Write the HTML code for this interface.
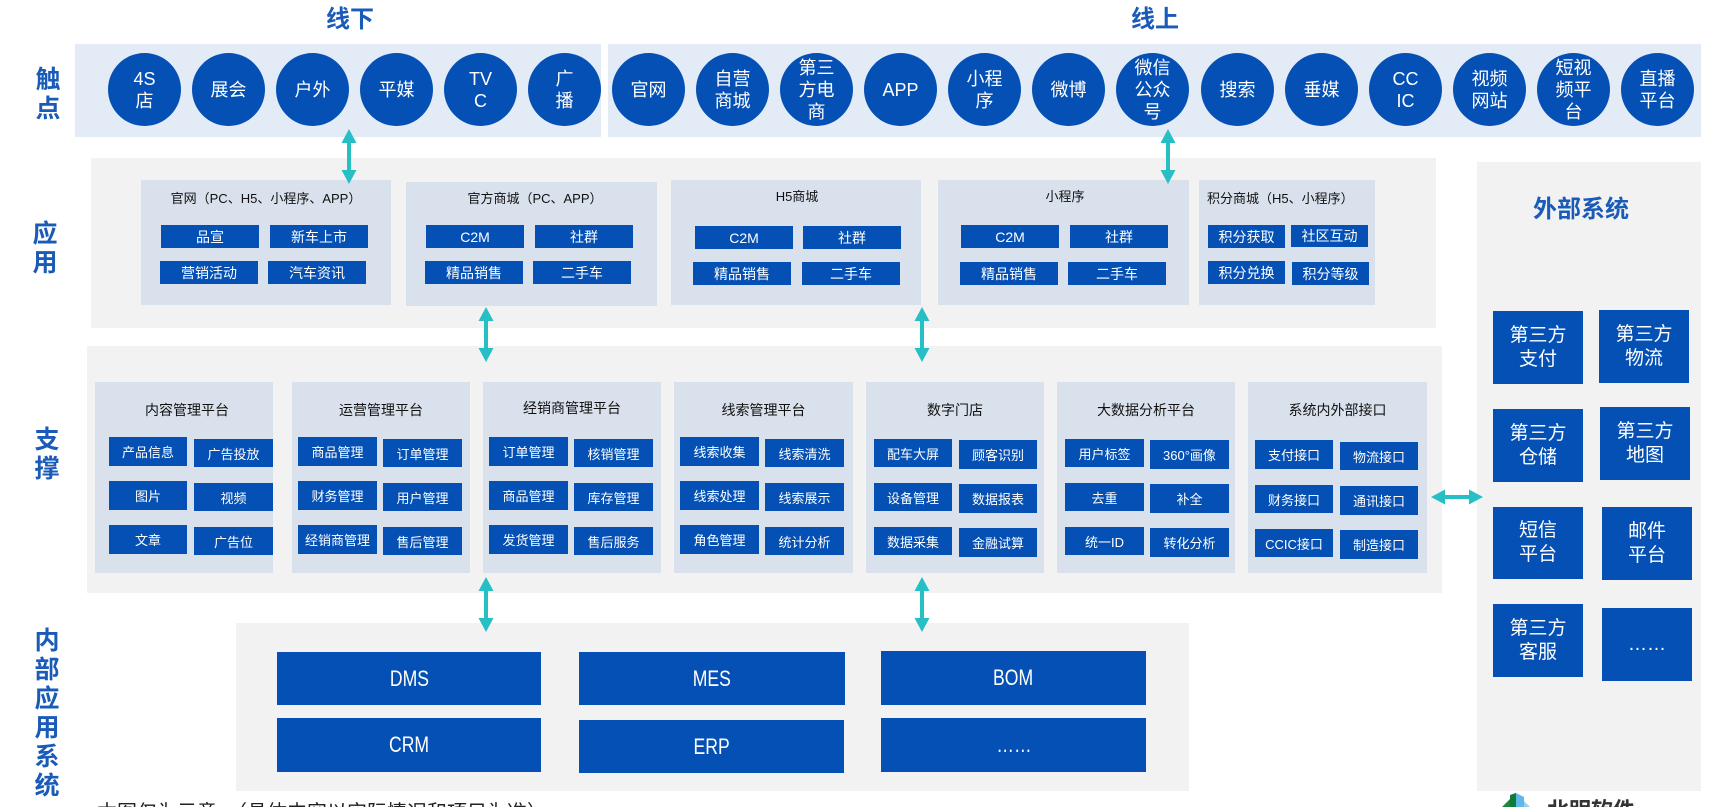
<!DOCTYPE html>
<html><head><meta charset="utf-8">
<style>
*{margin:0;padding:0;box-sizing:border-box}
html{width:1712px;height:807px;overflow:hidden}
body{width:1712px;height:807px;overflow:hidden;background:#fff;font-family:"Liberation Sans","Noto Sans CJK SC",sans-serif}
#root{position:relative;width:1712px;height:807px;overflow:hidden;background:#fff}
.a{position:absolute}
.lbl{position:absolute;color:#1a5bb8;font-weight:bold;font-size:25px;line-height:29px;width:30px;text-align:center}
.ttl{position:absolute;color:#1a5bb8;font-weight:bold;font-size:24px;line-height:28px}
.band{position:absolute}
.circ{position:absolute;top:53px;width:73px;height:73px;border-radius:50%;background:#0450b4;color:#fff;font-size:18px;line-height:22px;display:flex;align-items:center;justify-content:center;text-align:center}
.pan{position:absolute;background:#d9e1ec}
.pt{position:absolute;font-size:14px;color:#111;white-space:nowrap;text-align:center;line-height:18px}
.b{position:absolute;background:#0450b4;color:#fff;font-size:14px;display:flex;align-items:center;justify-content:center;white-space:nowrap}
.sb{position:absolute;background:#0450b4;color:#fff;font-size:13px;width:79px;height:29px;display:flex;align-items:center;justify-content:center;white-space:nowrap}
.eb{position:absolute;background:#0450b4;color:#fff;font-size:19px;line-height:24px;width:90px;height:73px;display:flex;align-items:center;justify-content:center;text-align:center}
.ib{position:absolute;background:#0450b4;color:#fff;font-size:22px;height:53px;display:flex;align-items:center;justify-content:center}
.ib span{display:inline-block;transform:scaleX(0.8)}
</style></head><body><div id="root">

<!-- titles -->
<div class="ttl" style="left:326px;top:6px">线下</div>
<div class="ttl" style="left:1131px;top:6px">线上</div>

<!-- left labels -->
<div class="lbl" style="left:33px;top:66px">触<br>点</div>
<div class="lbl" style="left:30px;top:220px">应<br>用</div>
<div class="lbl" style="left:32px;top:426px">支<br>撑</div>
<div class="lbl" style="left:32px;top:627px">内<br>部<br>应<br>用<br>系<br>统</div>

<!-- touch bands -->
<div class="band" style="left:75px;top:44px;width:526px;height:93px;background:#e3ebf7"></div>
<div class="band" style="left:608px;top:44px;width:1093px;height:93px;background:#e3ebf7"></div>

<div class="circ" style="left:108px">4S<br>店</div>
<div class="circ" style="left:192px">展会</div>
<div class="circ" style="left:276px">户外</div>
<div class="circ" style="left:360px">平媒</div>
<div class="circ" style="left:444px">TV<br>C</div>
<div class="circ" style="left:528px">广<br>播</div>

<div class="circ" style="left:612px">官网</div>
<div class="circ" style="left:696px">自营<br>商城</div>
<div class="circ" style="left:780px">第三<br>方电<br>商</div>
<div class="circ" style="left:864px">APP</div>
<div class="circ" style="left:948px">小程<br>序</div>
<div class="circ" style="left:1032px">微博</div>
<div class="circ" style="left:1116px">微信<br>公众<br>号</div>
<div class="circ" style="left:1201px">搜索</div>
<div class="circ" style="left:1285px">垂媒</div>
<div class="circ" style="left:1369px">CC<br>IC</div>
<div class="circ" style="left:1453px">视频<br>网站</div>
<div class="circ" style="left:1537px">短视<br>频平<br>台</div>
<div class="circ" style="left:1621px">直播<br>平台</div>

<!-- app band -->
<div class="band" style="left:91px;top:158px;width:1345px;height:170px;background:#f2f2f2"></div>

<div class="pan" style="left:141px;top:180px;width:250px;height:125px"></div>
<div class="pt" style="left:141px;top:190px;width:250px;font-size:13px">官网（PC、H5、小程序、APP）</div>
<div class="b" style="left:161px;top:225px;width:98px;height:23px">品宣</div>
<div class="b" style="left:270px;top:225px;width:98px;height:23px">新车上市</div>
<div class="b" style="left:160px;top:261px;width:98px;height:23px">营销活动</div>
<div class="b" style="left:268px;top:261px;width:98px;height:23px">汽车资讯</div>

<div class="pan" style="left:406px;top:182px;width:251px;height:124px"></div>
<div class="pt" style="left:406px;top:190px;width:258px;font-size:13px">官方商城（PC、APP）</div>
<div class="b" style="left:426px;top:225px;width:98px;height:23px">C2M</div>
<div class="b" style="left:535px;top:225px;width:98px;height:23px">社群</div>
<div class="b" style="left:425px;top:261px;width:98px;height:23px">精品销售</div>
<div class="b" style="left:533px;top:261px;width:98px;height:23px">二手车</div>

<div class="pan" style="left:671px;top:180px;width:250px;height:125px"></div>
<div class="pt" style="left:671px;top:188px;width:252px;font-size:13px">H5商城</div>
<div class="b" style="left:695px;top:226px;width:98px;height:23px">C2M</div>
<div class="b" style="left:803px;top:226px;width:98px;height:23px">社群</div>
<div class="b" style="left:693px;top:262px;width:98px;height:23px">精品销售</div>
<div class="b" style="left:802px;top:262px;width:98px;height:23px">二手车</div>

<div class="pan" style="left:938px;top:180px;width:251px;height:125px"></div>
<div class="pt" style="left:938px;top:188px;width:254px;font-size:13px">小程序</div>
<div class="b" style="left:961px;top:225px;width:98px;height:23px">C2M</div>
<div class="b" style="left:1070px;top:225px;width:98px;height:23px">社群</div>
<div class="b" style="left:960px;top:262px;width:98px;height:23px">精品销售</div>
<div class="b" style="left:1068px;top:262px;width:98px;height:23px">二手车</div>

<div class="pan" style="left:1199px;top:180px;width:176px;height:125px"></div>
<div class="pt" style="left:1207px;top:190px;text-align:left;font-size:13px">积分商城（H5、小程序）</div>
<div class="b" style="left:1208px;top:225px;width:77px;height:23px">积分获取</div>
<div class="b" style="left:1291px;top:225px;width:77px;height:22px">社区互动</div>
<div class="b" style="left:1208px;top:261px;width:77px;height:23px">积分兑换</div>
<div class="b" style="left:1292px;top:262px;width:77px;height:23px">积分等级</div>

<!-- external -->
<div class="band" style="left:1477px;top:162px;width:224px;height:629px;background:#f2f2f2"></div>
<div class="ttl" style="left:1533px;top:196px;font-size:24px">外部系统</div>
<div class="eb" style="left:1493px;top:311px">第三方<br>支付</div>
<div class="eb" style="left:1599px;top:310px">第三方<br>物流</div>
<div class="eb" style="left:1493px;top:409px">第三方<br>仓储</div>
<div class="eb" style="left:1600px;top:407px">第三方<br>地图</div>
<div class="eb" style="left:1493px;top:507px;height:72px">短信<br>平台</div>
<div class="eb" style="left:1602px;top:507px">邮件<br>平台</div>
<div class="eb" style="left:1493px;top:604px">第三方<br>客服</div>
<div class="eb" style="left:1602px;top:608px">……</div>

<!-- support band -->
<div class="band" style="left:87px;top:346px;width:1355px;height:247px;background:#f2f2f2"></div>

<div class="pan" style="left:95px;top:382px;width:178px;height:191px"></div>
<div class="pt" style="left:95px;top:401px;width:184px">内容管理平台</div>
<div class="sb" style="left:109px;top:437px;width:78px">产品信息</div>
<div class="sb" style="left:194px;top:439px;height:28px">广告投放</div>
<div class="sb" style="left:109px;top:481px;width:78px">图片</div>
<div class="sb" style="left:194px;top:483px;height:28px">视频</div>
<div class="sb" style="left:109px;top:525px;width:78px">文章</div>
<div class="sb" style="left:194px;top:527px;height:28px">广告位</div>

<div class="pan" style="left:292px;top:382px;width:178px;height:191px"></div>
<div class="pt" style="left:292px;top:401px;width:178px">运营管理平台</div>
<div class="sb" style="left:298px;top:437px">商品管理</div>
<div class="sb" style="left:383px;top:439px;height:28px">订单管理</div>
<div class="sb" style="left:298px;top:481px">财务管理</div>
<div class="sb" style="left:383px;top:483px;height:28px">用户管理</div>
<div class="sb" style="left:298px;top:525px">经销商管理</div>
<div class="sb" style="left:383px;top:527px;height:28px">售后管理</div>

<div class="pan" style="left:483px;top:382px;width:178px;height:191px"></div>
<div class="pt" style="left:483px;top:399px;width:178px">经销商管理平台</div>
<div class="sb" style="left:489px;top:437px">订单管理</div>
<div class="sb" style="left:574px;top:439px;height:28px">核销管理</div>
<div class="sb" style="left:489px;top:481px">商品管理</div>
<div class="sb" style="left:574px;top:483px;height:28px">库存管理</div>
<div class="sb" style="left:489px;top:525px">发货管理</div>
<div class="sb" style="left:574px;top:527px;height:28px">售后服务</div>

<div class="pan" style="left:674px;top:382px;width:179px;height:191px"></div>
<div class="pt" style="left:674px;top:401px;width:179px">线索管理平台</div>
<div class="sb" style="left:680px;top:437px">线索收集</div>
<div class="sb" style="left:765px;top:439px;height:28px">线索清洗</div>
<div class="sb" style="left:680px;top:481px">线索处理</div>
<div class="sb" style="left:765px;top:483px;height:28px">线索展示</div>
<div class="sb" style="left:680px;top:525px">角色管理</div>
<div class="sb" style="left:765px;top:527px;height:28px">统计分析</div>

<div class="pan" style="left:866px;top:382px;width:178px;height:191px"></div>
<div class="pt" style="left:866px;top:401px;width:178px">数字门店</div>
<div class="sb" style="left:874px;top:439px;width:78px;height:28px">配车大屏</div>
<div class="sb" style="left:959px;top:440px;width:78px">顾客识别</div>
<div class="sb" style="left:874px;top:483px;width:78px;height:28px">设备管理</div>
<div class="sb" style="left:959px;top:484px;width:78px">数据报表</div>
<div class="sb" style="left:874px;top:527px;width:78px;height:28px">数据采集</div>
<div class="sb" style="left:959px;top:528px;width:78px">金融试算</div>

<div class="pan" style="left:1057px;top:382px;width:178px;height:191px"></div>
<div class="pt" style="left:1057px;top:401px;width:178px">大数据分析平台</div>
<div class="sb" style="left:1065px;top:439px;height:28px">用户标签</div>
<div class="sb" style="left:1150px;top:440px">360°画像</div>
<div class="sb" style="left:1065px;top:483px;height:28px">去重</div>
<div class="sb" style="left:1150px;top:484px">补全</div>
<div class="sb" style="left:1065px;top:527px;height:28px">统一ID</div>
<div class="sb" style="left:1150px;top:528px">转化分析</div>

<div class="pan" style="left:1248px;top:382px;width:179px;height:191px"></div>
<div class="pt" style="left:1248px;top:401px;width:179px">系统内外部接口</div>
<div class="sb" style="left:1255px;top:440px;width:78px">支付接口</div>
<div class="sb" style="left:1340px;top:442px;width:78px;height:28px">物流接口</div>
<div class="sb" style="left:1255px;top:485px;width:78px;height:28px">财务接口</div>
<div class="sb" style="left:1340px;top:486px;width:78px">通讯接口</div>
<div class="sb" style="left:1255px;top:529px;width:78px;height:28px">CCIC接口</div>
<div class="sb" style="left:1340px;top:530px;width:78px">制造接口</div>

<!-- internal -->
<div class="band" style="left:236px;top:623px;width:953px;height:168px;background:#f2f2f2"></div>
<div class="ib" style="left:277px;top:652px;width:264px"><span>DMS</span></div>
<div class="ib" style="left:277px;top:718px;width:264px;height:54px"><span>CRM</span></div>
<div class="ib" style="left:579px;top:652px;width:266px"><span>MES</span></div>
<div class="ib" style="left:579px;top:720px;width:265px"><span>ERP</span></div>
<div class="ib" style="left:881px;top:651px;width:265px;height:54px"><span>BOM</span></div>
<div class="ib" style="left:881px;top:718px;width:265px;height:54px"><span>……</span></div>

<!-- bottom text + logo (clipped at bottom edge like reference) -->
<div class="a" style="left:97px;top:801px;font-size:20px;line-height:24px;color:#222;white-space:nowrap">本图仅为示意，（具体内容以实际情况和项目为准）</div>
<svg class="a" style="left:1500px;top:793px" width="32" height="14" viewBox="0 0 32 14">
<polygon points="2,14 10,6 10,14" fill="#1a8a3a"/>
<polygon points="10,14 10,2 16,0 16,14" fill="#0f7a3a"/>
<polygon points="16,14 16,0 24,4 24,14" fill="#5fb8e8"/>
<polygon points="24,14 24,8 30,14" fill="#9ad0f0"/>
</svg>
<div class="a" style="left:1547px;top:798px;font-size:22px;line-height:26px;color:#333;font-weight:bold;white-space:nowrap">北明软件</div>

<!-- arrows -->
<svg class="a" style="left:0;top:0" width="1712" height="807">
<g fill="#27bfc6">
<g transform="translate(349,129)"><polygon points="0,0 7.5,14 2,14 2,41 7.5,41 0,55 -7.5,41 -2,41 -2,14 -7.5,14"/></g>
<g transform="translate(1168,129)"><polygon points="0,0 7.5,14 2,14 2,41 7.5,41 0,55 -7.5,41 -2,41 -2,14 -7.5,14"/></g>
<g transform="translate(486,307)"><polygon points="0,0 7.5,14 2,14 2,41 7.5,41 0,55 -7.5,41 -2,41 -2,14 -7.5,14"/></g>
<g transform="translate(922,307)"><polygon points="0,0 7.5,14 2,14 2,41 7.5,41 0,55 -7.5,41 -2,41 -2,14 -7.5,14"/></g>
<g transform="translate(486,577)"><polygon points="0,0 7.5,14 2,14 2,41 7.5,41 0,55 -7.5,41 -2,41 -2,14 -7.5,14"/></g>
<g transform="translate(922,577)"><polygon points="0,0 7.5,14 2,14 2,41 7.5,41 0,55 -7.5,41 -2,41 -2,14 -7.5,14"/></g>
<g transform="translate(1431,497)"><polygon points="0,0 14,-7.5 14,-2 38,-2 38,-7.5 52,0 38,7.5 38,2 14,2 14,7.5"/></g>
</g>
</svg>
</div></body></html>
